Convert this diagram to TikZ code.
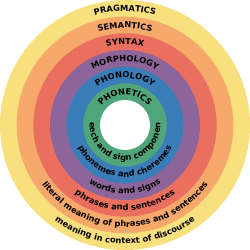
\documentclass[tikz,border=0pt]{standalone}
\usepackage{fontspec}
\setmainfont{DejaVu Sans}
\usetikzlibrary{decorations.text}
\definecolor{ringY}{HTML}{F7E07D}
\definecolor{ringO}{HTML}{F6A96B}
\definecolor{ringR}{HTML}{EA6F5E}
\definecolor{ringP}{HTML}{8E659A}
\definecolor{ringB}{HTML}{3A7EB9}
\definecolor{ringG}{HTML}{4FA67A}
\newcommand\lblfont{\fontsize{8.3}{10}\selectfont\bfseries}
\tikzset{
  arclabel/.style={decorate, decoration={text along path, text align=center, text={|\lblfont|#1}}}
}
\begin{document}
\begin{tikzpicture}
\useasboundingbox (-125pt,-125pt) rectangle (125pt,125pt);
\fill[ringY] (0,0) circle[radius=125pt];
\fill[ringO] (0,0) circle[radius=108.33pt];
\fill[ringR] (0,0) circle[radius=91.67pt];
\fill[ringP] (0,0) circle[radius=75pt];
\fill[ringB] (0,0) circle[radius=58.33pt];
\fill[ringG] (0,0) circle[radius=41.67pt];
\fill[white] (0,0) circle[radius=25pt];
% top labels
\path[arclabel=PRAGMATICS] (180:113.7pt) arc[start angle=180,end angle=0,radius=113.7pt];
\path[arclabel=SEMANTICS] (180:97pt) arc[start angle=180,end angle=0,radius=97pt];
\path[arclabel=SYNTAX] (180:80.3pt) arc[start angle=180,end angle=0,radius=80.3pt];
\path[arclabel=MORPHOLOGY] (180:63.7pt) arc[start angle=180,end angle=0,radius=63.7pt];
\path[arclabel=PHONOLOGY] (180:47pt) arc[start angle=180,end angle=0,radius=47pt];
\path[arclabel=PHONETICS] (180:30.3pt) arc[start angle=180,end angle=0,radius=30.3pt];
% bottom labels
\path[arclabel={meaning in context of discourse}] (180:118.7pt) arc[start angle=180,end angle=360,radius=118.7pt];
\path[arclabel={literal meaning of phrases and sentences}] (180:102pt) arc[start angle=180,end angle=360,radius=102pt];
\path[arclabel={phrases and sentences}] (180:85.3pt) arc[start angle=180,end angle=360,radius=85.3pt];
\path[arclabel={words and signs}] (180:68.7pt) arc[start angle=180,end angle=360,radius=68.7pt];
\path[arclabel={phonemes and cheremes}] (180:52pt) arc[start angle=180,end angle=360,radius=52pt];
\path[arclabel={eech and sign componen}] (160:35.3pt) arc[start angle=160,end angle=380,radius=35.3pt];
\end{tikzpicture}
\end{document}
